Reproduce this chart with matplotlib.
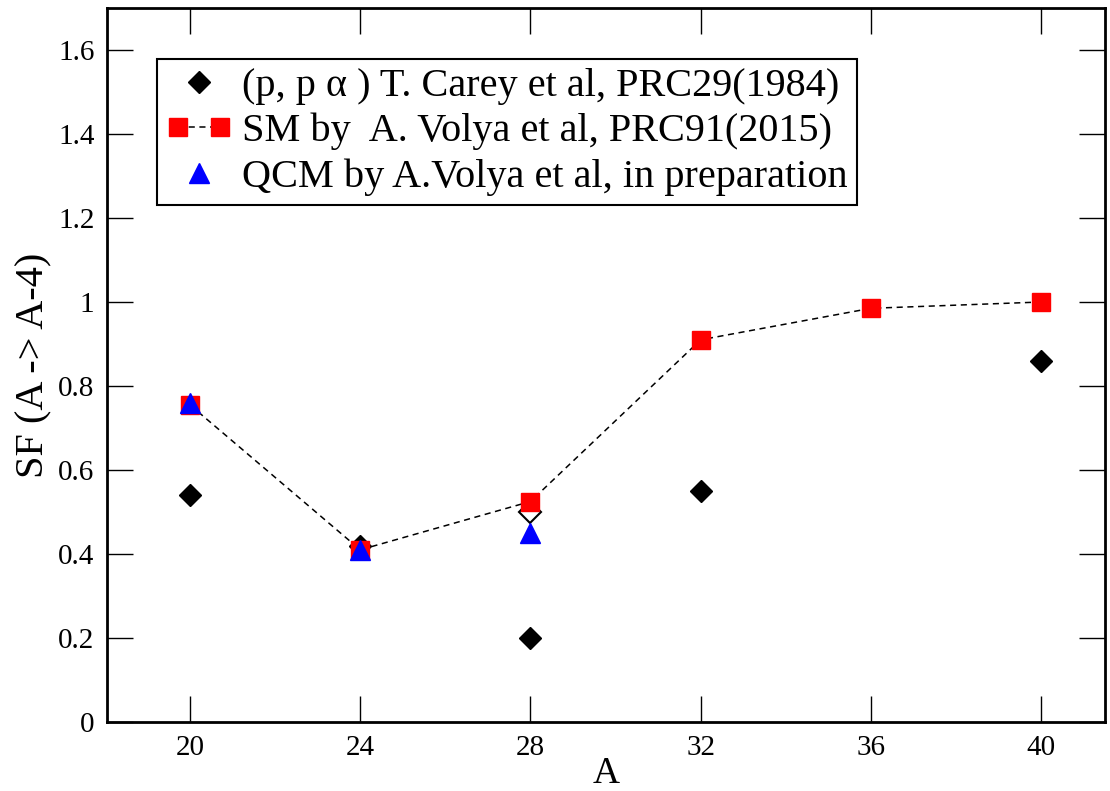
import matplotlib
matplotlib.use("Agg")
import matplotlib.pyplot as plt
from matplotlib.legend_handler import HandlerLine2D

plt.rcParams['font.family'] = ['Liberation Serif', 'DejaVu Serif']

# Data
exp_A = [20, 24, 28, 32, 40]
exp_SF = [0.54, 0.42, 0.20, 0.55, 0.86]
exp_open_A = [28]
exp_open_SF = [0.50]
sm_A = [20, 24, 28, 32, 36, 40]
sm_SF = [0.755, 0.41, 0.525, 0.91, 0.985, 1.0]
qcm_A = [20, 24, 28]
qcm_SF = [0.76, 0.41, 0.45]

xticks = [20, 24, 28, 32, 36, 40]
yticks = [0, 0.2, 0.4, 0.6, 0.8, 1.0, 1.2, 1.4, 1.6]
yticklabels = ["0", "0.2", "0.4", "0.6", "0.8", "1", "1.2", "1.4", "1.6"]

fig = plt.figure(figsize=(11.1, 7.91), dpi=100)
ax = fig.add_axes([0.0964, 0.0872, 0.8991, 0.9027])

h_exp_open, = ax.plot(exp_open_A, exp_open_SF, linestyle='none', marker='D', markersize=11,
                      markerfacecolor='white', markeredgecolor='black', markeredgewidth=1.5, zorder=2)
h_exp, = ax.plot(exp_A, exp_SF, linestyle='none', marker='D', markersize=11,
                 color='black', zorder=3)
h_sm, = ax.plot(sm_A, sm_SF, linestyle=(0, (4, 3)), linewidth=1.1, color='black',
                marker='s', markersize=13.5, markerfacecolor='red', markeredgecolor='red', zorder=4)
h_qcm, = ax.plot(qcm_A, qcm_SF, linestyle='none', marker='^', markersize=15,
                 color='blue', zorder=5)

ax.set_xlim(18.05, 41.5)
ax.set_ylim(0, 1.7)
ax.set_xticks(xticks)
ax.set_yticks(yticks)
ax.set_yticklabels(yticklabels)
ax.tick_params(direction='in', length=19, width=1, top=True, right=True,
               labelsize=21, pad=9)
for s in ax.spines.values():
    s.set_linewidth(2)

ax.set_xlabel("A", fontsize=27, labelpad=-3)
ax.set_ylabel("SF (A -> A-4)", fontsize=29, labelpad=4)

leg = ax.legend([h_exp, h_sm, h_qcm],
                ["(p, p α ) T. Carey et al, PRC29(1984)",
                 "SM by  A. Volya et al, PRC91(2015)",
                 "QCM by A.Volya et al, in preparation"],
                handler_map={h_exp: HandlerLine2D(numpoints=1),
                             h_qcm: HandlerLine2D(numpoints=1),
                             h_sm: HandlerLine2D(numpoints=2)},
                loc='upper left', bbox_to_anchor=(0.050, 0.929), borderaxespad=0,
                fontsize=29, fancybox=False, framealpha=1, edgecolor='black',
                handlelength=1.65, handletextpad=0.25, labelspacing=0.2,
                borderpad=0.22)
leg.get_frame().set_linewidth(1.5)

fig.savefig("out.png", dpi=100)
